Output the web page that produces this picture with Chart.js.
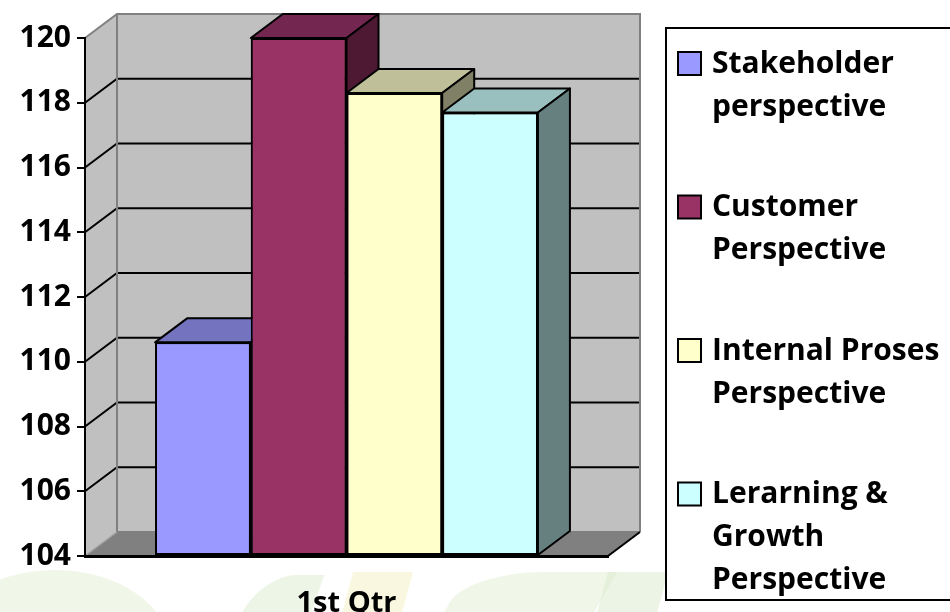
<!DOCTYPE html>
<html>
<head>
<meta charset="utf-8">
<script src="https://cdn.jsdelivr.net/npm/chart.js@4.4.1/dist/chart.umd.min.js"></script>
<style>
  html, body { margin: 0; padding: 0; background: #fff; }
  #wrap { position: relative; width: 950px; height: 612px; overflow: hidden; }
  #wrap canvas { position: absolute; left: 0; top: 0; }
  .wm { position: absolute; opacity: 0.55; }
</style>
</head>
<body>
<div id="wrap">
  <div class="wm" style="left:-60px;top:570px;width:230px;height:160px;border-radius:50%;background:#e4efd6;"></div>
  <div class="wm" style="left:240px;top:575px;width:70px;height:80px;border-radius:60% 0 0 0;background:#dfeed2;transform:skewX(-20deg);"></div>
  <div class="wm" style="left:345px;top:572px;width:60px;height:60px;background:#f6f1c8;transform:skewX(-15deg);"></div>
  <div class="wm" style="left:450px;top:572px;width:150px;height:60px;border-radius:50% 0 0 0;background:#e4f0d6;transform:skewX(-30deg);"></div>
  <div class="wm" style="left:600px;top:572px;width:60px;height:60px;background:#dcebd0;transform:skewX(-15deg);"></div>
  <canvas id="chart" width="950" height="612"></canvas>
</div>
<script>
'use strict';

var categories = ['1st Qtr'];
var seriesNames = [
    ['Stakeholder', 'perspective'],
    ['Customer', 'Perspective'],
    ['Internal Proses', 'Perspective'],
    ['Lerarning &', 'Growth', 'Perspective']
];
var stakeholderValues = [110.6];
var customerValues = [120];
var internalValues = [118.3];
var learningValues = [117.7];
var yTicks = [104, 106, 108, 110, 112, 114, 116, 118, 120];

var frontColors = ['#9999ff', '#993366', '#ffffcc', '#ccffff'];
var topColors = ['#7373bf', '#732650', '#bfbf99', '#99bfbf'];
var sideColors = ['#4d4d80', '#4d1933', '#808066', '#668080'];

var depthX = 32;
var depthY = -24;
var fontName = '"Open Sans", Lato, sans-serif';

function poly(ctx, pts, fill, stroke, lw) {
    ctx.beginPath();
    ctx.moveTo(pts[0][0], pts[0][1]);
    for (var i = 1; i < pts.length; i++) {
        ctx.lineTo(pts[i][0], pts[i][1]);
    }
    ctx.closePath();
    if (fill) {
        ctx.fillStyle = fill;
        ctx.fill();
    }
    if (stroke) {
        ctx.strokeStyle = stroke;
        ctx.lineWidth = lw || 2;
        ctx.stroke();
    }
}

function line(ctx, pts, color, lw) {
    ctx.beginPath();
    ctx.moveTo(pts[0][0], pts[0][1]);
    for (var i = 1; i < pts.length; i++) {
        ctx.lineTo(pts[i][0], pts[i][1]);
    }
    ctx.strokeStyle = color;
    ctx.lineWidth = lw || 2;
    ctx.stroke();
}

// back wall, side wall, floor and gridlines
var wallsPlugin = {
    id: 'walls',
    beforeDraw: function(chart) {
        var ctx = chart.ctx;
        var a = chart.chartArea;
        var ys = chart.scales.y;
        ctx.save();
        // back wall
        poly(ctx, [[a.left + depthX, a.top + depthY], [a.right + depthX, a.top + depthY],
            [a.right + depthX, a.bottom + depthY], [a.left + depthX, a.bottom + depthY]], '#c0c0c0');
        // side wall
        poly(ctx, [[a.left, a.top], [a.left + depthX, a.top + depthY],
            [a.left + depthX, a.bottom + depthY], [a.left, a.bottom]], '#c0c0c0');
        // floor
        poly(ctx, [[a.left, a.bottom], [a.right, a.bottom],
            [a.right + depthX, a.bottom + depthY], [a.left + depthX, a.bottom + depthY]], '#808080');

        // gridlines
        for (var i = 0; i < yTicks.length; i++) {
            var v = yTicks[i];
            if (v === ys.min || v === ys.max) continue;
            var py = ys.getPixelForValue(v);
            line(ctx, [[a.left, py], [a.left + depthX, py + depthY], [a.right + depthX, py + depthY]], '#000', 2);
        }

        // wall edges
        line(ctx, [[a.left, a.top], [a.left + depthX, a.top + depthY], [a.right + depthX, a.top + depthY],
            [a.right + depthX, a.bottom + depthY]], '#808080', 2);
        line(ctx, [[a.left + depthX, a.top + depthY], [a.left + depthX, a.bottom + depthY],
            [a.right + depthX, a.bottom + depthY]], '#808080', 2);
        line(ctx, [[a.left, a.bottom], [a.left + depthX, a.bottom + depthY]], '#a0a0a0', 1.5);
        line(ctx, [[a.right, a.bottom], [a.right + depthX, a.bottom + depthY]], '#000', 2);
        ctx.restore();
    }
};

// top and side faces of each bar, drawn left to right
var bars3dPlugin = {
    id: 'bars3d',
    afterDatasetsDraw: function(chart) {
        var ctx = chart.ctx;
        ctx.save();
        for (var d = 0; d < chart.data.datasets.length; d++) {
            var meta = chart.getDatasetMeta(d);
            var bar = meta.data[0];
            if (!bar) continue;
            bar.draw(ctx);
            var x1 = bar.x - bar.width / 2;
            var x2 = bar.x + bar.width / 2;
            var top = bar.y;
            var base = bar.base;
            ctx.lineJoin = 'round';
            poly(ctx, [[x1, top], [x2, top], [x2 + depthX, top + depthY], [x1 + depthX, top + depthY]],
                topColors[d], '#000', 2);
            poly(ctx, [[x2, top], [x2 + depthX, top + depthY], [x2 + depthX, base + depthY], [x2, base]],
                sideColors[d], '#000', 2);
        }
        ctx.restore();
    }
};

// legend box on the right
var legendPlugin = {
    id: 'sideLegend',
    afterDraw: function(chart) {
        var ctx = chart.ctx;
        ctx.save();
        ctx.fillStyle = '#fff';
        ctx.fillRect(666, 28, 300, 572);
        ctx.strokeStyle = '#000';
        ctx.lineWidth = 2;
        ctx.strokeRect(666, 28, 300, 572);

        ctx.font = 'bold 30px ' + fontName;
        ctx.textBaseline = 'middle';
        ctx.textAlign = 'left';
        var ds = chart.data.datasets;
        for (var i = 0; i < ds.length; i++) {
            var y0 = 64 + i * 143.5;
            ctx.fillStyle = ds[i].backgroundColor;
            ctx.fillRect(678, y0 - 12, 23, 23);
            ctx.strokeStyle = '#000';
            ctx.lineWidth = 2;
            ctx.strokeRect(678, y0 - 12, 23, 23);
            ctx.fillStyle = '#000';
            for (var j = 0; j < ds[i].label.length; j++) {
                ctx.fillText(ds[i].label[j], 712, y0 + j * 43);
            }
        }
        ctx.restore();
    }
};

function makeDataset(i, values) {
    return {
        label: seriesNames[i],
        data: values,
        base: yTicks[0],
        backgroundColor: frontColors[i],
        borderColor: '#000',
        borderWidth: 2,
        borderSkipped: false
    };
}

var ctx = document.getElementById('chart').getContext('2d');
var chart = new Chart(ctx, {
    type: 'bar',
    data: {
        labels: categories,
        datasets: [
            makeDataset(0, stakeholderValues),
            makeDataset(1, customerValues),
            makeDataset(2, internalValues),
            makeDataset(3, learningValues)
        ]
    },
    options: {
        responsive: false,
        animation: false,
        events: [],
        categoryPercentage: 0.732,
        barPercentage: 1,
        layout: { padding: { left: 0, top: 38, right: 342, bottom: 0 } },
        plugins: {
            legend: { display: false },
            tooltip: { enabled: false }
        },
        scales: {
            x: {
                grid: { display: false },
                border: { display: true, color: '#000', width: 3 },
                ticks: { color: '#000', padding: 22, font: { family: fontName, size: 29, weight: 'bold' } },
                afterFit: function(scale) { scale.height = 56; }
            },
            y: {
                min: 104,
                max: 120,
                afterBuildTicks: function(scale) {
                    scale.ticks = yTicks.map(function(v) { return { value: v }; });
                },
                grid: { drawOnChartArea: false, color: '#000', lineWidth: 2, tickLength: 8 },
                border: { display: true, color: '#000', width: 2 },
                ticks: { color: '#000', padding: 6, font: { family: fontName, size: 30, weight: 'bold' } },
                afterFit: function(scale) { scale.width = 85; }
            }
        }
    },
    plugins: [wallsPlugin, bars3dPlugin, legendPlugin]
});
</script>
</body>
</html>
